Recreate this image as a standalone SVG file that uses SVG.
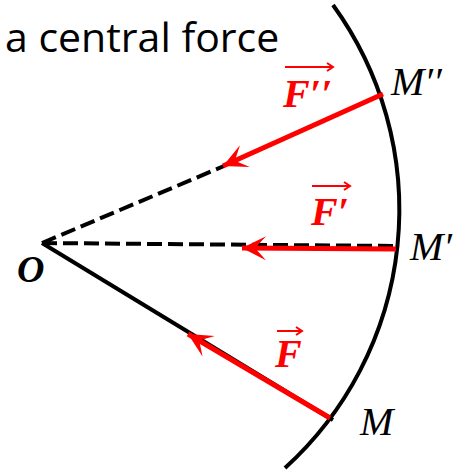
<svg xmlns="http://www.w3.org/2000/svg" width="461" height="472" viewBox="0 0 461 472">
  <style>
    .title { font-family: "Open Sans", "Liberation Sans", sans-serif; font-size: 41px; fill: #000; }
    .pt { font-family: "Liberation Serif", "DejaVu Serif", serif; font-style: italic; font-size: 40px; fill: #000; }
    .o { font-family: "Liberation Serif", "DejaVu Serif", serif; font-style: italic; font-weight: bold; font-size: 38px; fill: #000; }
    .f { font-family: "Liberation Serif", "DejaVu Serif", serif; font-style: italic; font-weight: bold; font-size: 40px; fill: #ff0000; }
    .vec { fill: none; stroke: #ff0000; stroke-width: 2; }
    .solid { fill: none; stroke: #000; stroke-width: 4; stroke-linecap: butt; }
    .dash { fill: none; stroke: #000; stroke-width: 4; stroke-dasharray: 15 6; }
    .force { fill: none; stroke: #ff0000; stroke-width: 5; marker-end: url(#head); }
    .arc { fill: none; stroke: #000; stroke-width: 4; }
  </style>
  <defs>
    <marker id="head" markerUnits="userSpaceOnUse" viewBox="-26 -13 28 26" refX="0" refY="0" markerWidth="28" markerHeight="26" orient="auto">
      <path d="M0,0 L-24,-12 L-13,0 L-24,12 Z" fill="#ff0000"/>
    </marker>
  </defs>

  <rect width="461" height="472" fill="#fff"/>

  <g id="title">
    <text class="title" x="5" y="52">a central force</text>
  </g>

  <g id="trajectory">
    <path class="arc" d="M333,5 A349,349 0 0 1 285,468"/>
  </g>

  <g id="connectors">
    <line class="solid" x1="42" y1="243" x2="333" y2="420"/>
    <line class="dash" x1="42" y1="243" x2="224" y2="166"/>
    <line class="dash" x1="42" y1="243" x2="396" y2="246"/>
    <line class="force" x1="330" y1="418" x2="188" y2="334"/>
    <line class="force" x1="396" y1="249" x2="242" y2="248"/>
    <line class="force" x1="383" y1="94" x2="223" y2="166"/>
  </g>

  <g id="node-O">
    <text class="o" x="17" y="282">O</text>
  </g>
  <g id="node-M">
    <text class="pt" x="360" y="435">M</text>
  </g>
  <g id="node-M1">
    <text class="pt" x="410" y="260">M′</text>
  </g>
  <g id="node-M2">
    <text class="pt" x="391" y="95">M′′</text>
  </g>

  <g id="label-F">
    <text class="f" x="275" y="367">F</text>
    <path class="vec" d="M277,331 H302 M296,327 L302,331 L296,335"/>
  </g>
  <g id="label-F1">
    <text class="f" x="311" y="225">F′</text>
    <path class="vec" d="M312,186 H350 M344,182 L350,186 L344,190"/>
  </g>
  <g id="label-F2">
    <text class="f" x="283" y="107">F′′</text>
    <path class="vec" d="M285,67 H333 M327,63 L333,67 L327,71"/>
  </g>
</svg>
